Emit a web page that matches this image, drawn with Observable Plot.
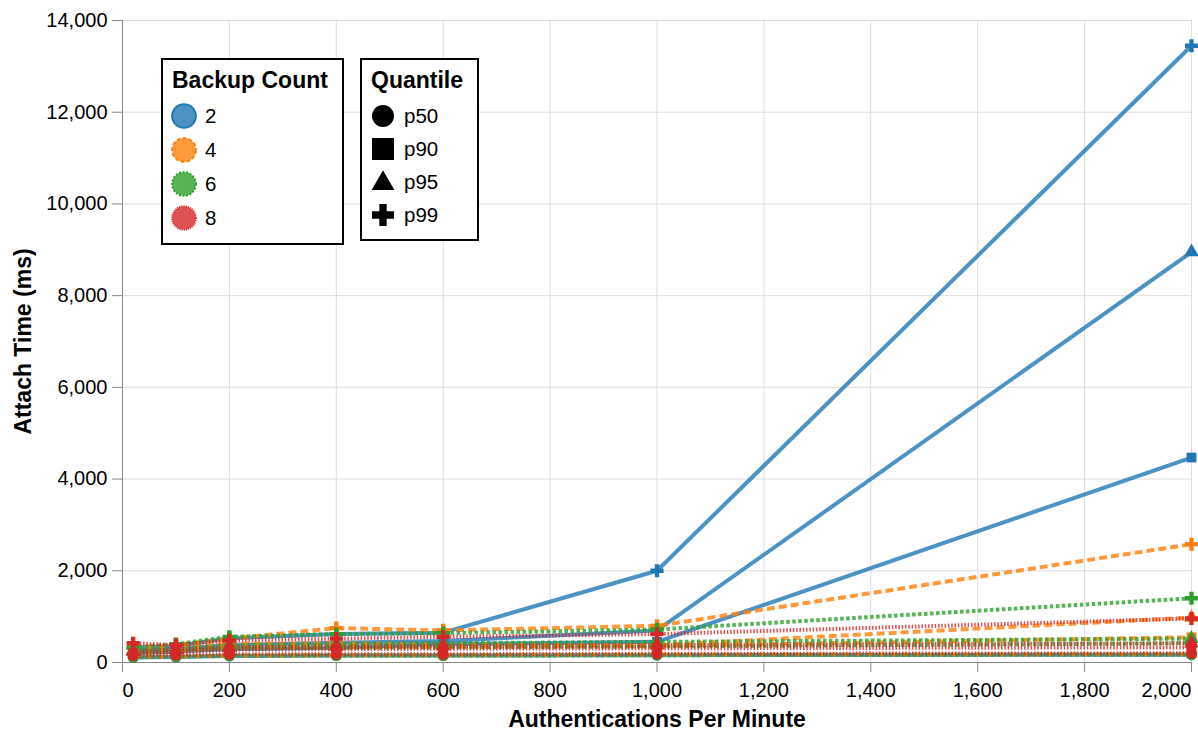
<!DOCTYPE html>
<html>
<head>
<meta charset="utf-8">
<script src="https://cdn.jsdelivr.net/npm/d3@7"></script>
<script src="https://cdn.jsdelivr.net/npm/@observablehq/plot@0.6"></script>
<style>
  html, body { margin: 0; padding: 0; background: #fff; }
  body { font-family: "Liberation Sans", Arial, sans-serif; color: #000; }
  #wrap { position: relative; width: 1198px; height: 734px; overflow: hidden; }
  #wrap svg { display: block; }
  [aria-label="x-axis label"] text, [aria-label="y-axis label"] text { font-weight: bold; font-size: 23px; }
  .legend { position: absolute; border: 2px solid #000; background: #fff; box-sizing: border-box; }
  .legend .title { font-weight: bold; font-size: 23px; line-height: 28px; white-space: nowrap; margin-bottom: 5px; }
  .legend .row { display: flex; align-items: center; height: 34px; }
  .legend.q .row { height: 33px; }
  .legend .row span { font-size: 20.5px; margin-left: 9px; }
  .legend svg { overflow: visible; }
</style>
</head>
<body>
<div id="wrap"></div>
<script>
// ---- data ----
const xValues = [20, 100, 200, 400, 600, 1000, 2000];
const backupCounts = ["2", "4", "6", "8"];
const quantiles = ["p50", "p90", "p95", "p99"];
const backupColors = ["#1f77b4", "#ff7f0e", "#2ca02c", "#d62728"];
const backupDashes = [null, "8,4", "3.5,2.5", "1.5,1.8"];
const legendDashes = [null, "4,2", "2,1.6", "1,1.2"];
const quantileSymbols = ["circle", "square", "triangle", "cross"];
const xTicks = [0, 200, 400, 600, 800, 1000, 1200, 1400, 1600, 1800, 2000];
const yTicks = [0, 2000, 4000, 6000, 8000, 10000, 12000, 14000];

// rows: p50, p90, p95, p99 ; columns follow xValues
const backup2 = [
  [110, 120, 140, 150, 150, 160, 170],
  [200, 240, 290, 320, 400, 450, 4470],
  [260, 290, 380, 430, 470, 700, 8950],
  [320, 360, 530, 620, 650, 2000, 13450]
];
const backup4 = [
  [120, 130, 150, 160, 160, 170, 180],
  [220, 260, 320, 330, 340, 360, 550],
  [270, 310, 400, 420, 390, 380, 980],
  [330, 380, 520, 750, 700, 800, 2580]
];
const backup6 = [
  [120, 130, 150, 150, 150, 160, 170],
  [220, 250, 310, 320, 330, 350, 420],
  [260, 300, 370, 400, 420, 450, 520],
  [330, 400, 560, 620, 640, 720, 1400]
];
const backup8 = [
  [150, 160, 180, 180, 180, 190, 200],
  [200, 230, 280, 290, 300, 310, 330],
  [240, 280, 330, 350, 360, 380, 420],
  [420, 380, 480, 520, 560, 620, 960]
];
const seriesByBackup = [backup2, backup4, backup6, backup8];

// ---- table ----
const rows = backupCounts.flatMap((b, i) =>
  quantiles.flatMap((q, j) =>
    xValues.map((x, k) => ({backup: b, quantile: q, x, y: seriesByBackup[i][j][k]}))
  )
);

const fmt = d3.format(",");
const axisCommon = {tickSize: 10, tickPadding: 10, tickFormat: fmt, fontSize: 20, stroke: "#888", label: null};

const chart = Plot.plot({
  width: 1198,
  height: 734,
  marginLeft: 122,
  marginRight: 7,
  marginTop: 20,
  marginBottom: 72,
  style: {fontFamily: "'Liberation Sans', Arial, sans-serif", fontSize: "20px", color: "#000", background: "#fff"},
  x: {domain: [0, 2000]},
  y: {domain: [0, 14000]},
  color: {domain: backupCounts, range: backupColors},
  symbol: {domain: quantiles, range: quantileSymbols},
  marks: [
    Plot.gridX(xTicks, {stroke: "#ddd", strokeOpacity: 1, strokeWidth: 1}),
    Plot.gridY(yTicks, {stroke: "#ddd", strokeOpacity: 1, strokeWidth: 1}),
    Plot.ruleX([0], {stroke: "#888"}),
    Plot.ruleY([0], {stroke: "#888"}),
    ...backupCounts.map((b, i) =>
      Plot.line(rows.filter(d => d.backup === b), {
        x: "x", y: "y", z: "quantile",
        stroke: backupColors[i], strokeWidth: 4, strokeOpacity: 0.8,
        strokeDasharray: backupDashes[i] ?? undefined,
        strokeLinecap: "butt"
      })
    ),
    Plot.dot(rows, {x: "x", y: "y", symbol: "quantile", fill: "backup", r: 5.5, stroke: "none"}),
    Plot.axisY(yTicks, {tickSize: 10, tickPadding: 5, tickFormat: fmt, fontSize: 20, stroke: "#888",
      label: "Attach Time (ms)", labelAnchor: "center", labelArrow: "none", labelOffset: 108}),
    Plot.axisX(xTicks.slice(1, -1), axisCommon),
    Plot.axisX([xTicks[0]], {...axisCommon, textAnchor: "start"}),
    Plot.axisX([xTicks[xTicks.length - 1]], {...axisCommon, textAnchor: "end",
      label: "Authentications Per Minute", labelAnchor: "center", labelArrow: "none", labelOffset: 64})
  ]
});

const wrap = document.getElementById("wrap");
wrap.appendChild(chart);

// ---- legends (HTML overlay) ----
const symbolAreas = {circle: 380, square: 484, triangle: 225, cross: 270};
function symbolSvg(type, color, dash, size) {
  const ns = "http://www.w3.org/2000/svg";
  const svg = document.createElementNS(ns, "svg");
  svg.setAttribute("width", 24);
  svg.setAttribute("height", 24);
  const p = document.createElementNS(ns, "path");
  const sym = {circle: d3.symbolCircle, square: d3.symbolSquare, triangle: d3.symbolTriangle, cross: d3.symbolCross}[type];
  p.setAttribute("d", d3.symbol(sym, size)());
  p.setAttribute("transform", type === "triangle" ? "translate(12,13.5)" : "translate(12,12)");
  p.setAttribute("fill", color);
  if (dash !== undefined) {
    p.setAttribute("fill-opacity", 0.8);
    p.setAttribute("stroke", color);
    p.setAttribute("stroke-width", 2);
    if (dash) p.setAttribute("stroke-dasharray", dash);
  }
  svg.appendChild(p);
  return svg;
}

function makeLegend(title, labels, symbolFor, box, cls) {
  const div = document.createElement("div");
  div.className = "legend " + cls;
  Object.assign(div.style, box);
  const t = document.createElement("div");
  t.className = "title";
  t.textContent = title;
  div.appendChild(t);
  labels.forEach((lab, i) => {
    const row = document.createElement("div");
    row.className = "row";
    row.appendChild(symbolFor(i));
    const s = document.createElement("span");
    s.textContent = lab;
    row.appendChild(s);
    div.appendChild(row);
  });
  wrap.appendChild(div);
}

makeLegend("Backup Count", backupCounts,
  i => symbolSvg("circle", backupColors[i], legendDashes[i] ?? "", 440),
  {left: "161px", top: "58px", width: "183px", height: "187px", padding: "6px 0 0 9px"}, "b");
makeLegend("Quantile", quantiles,
  i => symbolSvg(quantileSymbols[i], "#000", undefined, symbolAreas[quantileSymbols[i]]),
  {left: "360px", top: "58px", width: "119px", height: "183px", padding: "6px 0 0 9px"}, "q");
</script>
</body>
</html>
